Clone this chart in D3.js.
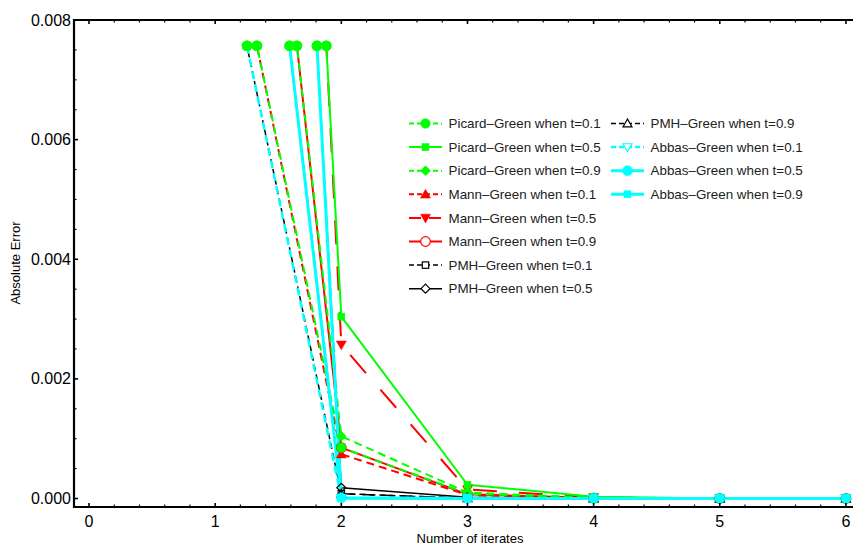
<!DOCTYPE html>
<html>
<head>
<meta charset="utf-8">
<script src="https://cdn.jsdelivr.net/npm/d3@7"></script>
<style>
  body { margin: 0; background: #fff; }
  text { font-family: "Liberation Sans", Arial, sans-serif; }
</style>
</head>
<body>
<div id="chart"></div>
<script>
// iterate numbers and absolute errors
var iterates = [1, 2, 3, 4, 5, 6];

var picard01 = [0.01090, 0.00085, 0.00008, 0.000010, 0.000001, 0];
var picard05 = [0.04111, 0.00304, 0.00023, 0.000030, 0.000002, 0];
var picard09 = [0.01959, 0.00104, 0.00010, 0.000012, 0.000001, 0];
var mann01   = [0.01095, 0.00074, 0.00006, 0.000006, 0, 0];
var mann05   = [0.04459, 0.00257, 0.00015, 0.000020, 0.000001, 0];
var mann09   = [0.01994, 0.00085, 0.00007, 0.000008, 0, 0];
var pmh01    = [0.01009, 0.00008, 0.000004, 0, 0, 0];
var pmh05    = [0.03845, 0.00018, 0.000020, 0, 0, 0];
var pmh09    = [0.01835, 0.00008, 0.000004, 0, 0, 0];
var abbas01  = [0.01012, 0.00001, 0, 0, 0, 0];
var abbas05  = [0.03918, 0.00001, 0, 0, 0, 0];
var abbas09  = [0.01845, 0.00001, 0, 0, 0, 0];

var seriesLabels = [
    "Picard\u2013Green when t=0.1", "Picard\u2013Green when t=0.5", "Picard\u2013Green when t=0.9",
    "Mann\u2013Green when t=0.1", "Mann\u2013Green when t=0.5", "Mann\u2013Green when t=0.9",
    "PMH\u2013Green when t=0.1", "PMH\u2013Green when t=0.5", "PMH\u2013Green when t=0.9",
    "Abbas\u2013Green when t=0.1", "Abbas\u2013Green when t=0.5", "Abbas\u2013Green when t=0.9"
];
var seriesValues = [picard01, picard05, picard09, mann01, mann05, mann09,
                    pmh01, pmh05, pmh09, abbas01, abbas05, abbas09];

var xTicks = [0, 1, 2, 3, 4, 5, 6];
var yTicks = [0, 0.002, 0.004, 0.006, 0.008];
var yClip = 0.00757;

// styles
var styles = [
    {color: "#00ff00", dash: "8,5", width: 2, marker: "circle", fill: true, size: 4.8},
    {color: "#00ff00", dash: null, width: 2, marker: "square", fill: true, size: 3.5},
    {color: "#00ff00", dash: "8,5", width: 2, marker: "diamond", fill: true, size: 5},
    {color: "#ff0000", dash: "8,5", width: 2, marker: "triUp", fill: true, size: 5},
    {color: "#ff0000", dash: "24,22", width: 2, marker: "triDown", fill: true, size: 5},
    {color: "#ff0000", dash: null, width: 2, marker: "circle", fill: false, size: 4.8},
    {color: "#000000", dash: "6,4", width: 1.5, marker: "square", fill: false, size: 3.2},
    {color: "#000000", dash: null, width: 1.5, marker: "diamond", fill: false, size: 4.5},
    {color: "#000000", dash: "12,7", width: 1.5, marker: "triUp", fill: false, size: 4.5},
    {color: "#00ffff", dash: "8,5", width: 2.5, marker: "triDown", fill: false, size: 4.5},
    {color: "#00ffff", dash: null, width: 3, marker: "circle", fill: true, size: 5},
    {color: "#00ffff", dash: null, width: 3, marker: "square", fill: true, size: 3.5}
];
// order in which the series are painted
var drawOrder = [3, 4, 5, 0, 1, 2, 6, 7, 8, 11, 9, 10];

var width = 853;
var height = 547;
var pLeft = 74, pRight = 853, pTop = 20, pBottom = 507;

var svg = d3.select("#chart").append("svg")
    .attr("width", width)
    .attr("height", height);

var x = d3.scaleLinear().domain([-0.119, 6.056]).range([pLeft, pRight]);
var y = d3.scaleLinear().domain([-0.000142, 0.008]).range([pBottom, pTop]);

svg.append("clipPath").attr("id", "plotClip")
    .append("rect")
    .attr("x", pLeft)
    .attr("y", y(yClip))
    .attr("width", pRight - pLeft)
    .attr("height", pBottom - y(yClip));

function drawMarker(g, type, cx, cy, st, size, openFill) {
    var fill = st.fill ? st.color : openFill;
    var s = size;
    var el;
    if (type === "circle") {
        el = g.append("circle").attr("cx", cx).attr("cy", cy).attr("r", s);
    } else if (type === "square") {
        el = g.append("rect").attr("x", cx - s).attr("y", cy - s).attr("width", 2 * s).attr("height", 2 * s);
    } else {
        var pts;
        if (type === "diamond") pts = [[cx, cy - s], [cx + s, cy], [cx, cy + s], [cx - s, cy]];
        else if (type === "triUp") pts = [[cx, cy - s], [cx + s, cy + s * 0.75], [cx - s, cy + s * 0.75]];
        else pts = [[cx, cy + s], [cx + s, cy - s * 0.75], [cx - s, cy - s * 0.75]];
        el = g.append("polygon").attr("points", pts.map(function(p) { return p.join(","); }).join(" "));
    }
    el.attr("fill", fill)
        .attr("stroke", st.color)
        .attr("stroke-width", st.fill ? 0.5 : 1.2);
}

var line = d3.line()
    .x(function(d) { return x(d[0]); })
    .y(function(d) { return y(d[1]); });

var plot = svg.append("g").attr("clip-path", "url(#plotClip)");

// lines
drawOrder.forEach(function(i) {
    var vals = seriesValues[i];
    var pts = iterates.map(function(it, j) { return [it, vals[j]]; });
    var st = styles[i];
    plot.append("path")
        .attr("d", line(pts))
        .attr("fill", "none")
        .attr("stroke", st.color)
        .attr("stroke-width", st.width)
        .attr("stroke-dasharray", st.dash)
        .attr("stroke-linejoin", "round");
});

// markers inside the plot range
var markers = svg.append("g");
drawOrder.forEach(function(i) {
    var vals = seriesValues[i];
    var st = styles[i];
    iterates.forEach(function(it, j) {
        if (vals[j] <= yClip) {
            drawMarker(markers, st.marker, x(it), y(vals[j]), st, st.size, "none");
        }
    });
});

// markers where the lines leave the top of the plot
seriesValues.forEach(function(vals, i) {
    for (var j = 0; j < vals.length - 1; j++) {
        if (vals[j] > yClip && vals[j + 1] <= yClip) {
            var f = (vals[j] - yClip) / (vals[j] - vals[j + 1]);
            var cx = iterates[j] + f * (iterates[j + 1] - iterates[j]);
            markers.append("circle")
                .attr("cx", x(cx))
                .attr("cy", y(yClip))
                .attr("r", 5.3)
                .attr("fill", "#00ff00");
        }
    }
});

// frame
var frame = svg.append("g").attr("stroke", "#000");
frame.append("line").attr("x1", pLeft).attr("x2", pLeft).attr("y1", pTop - 1).attr("y2", pBottom + 1).attr("stroke-width", 2.2);
frame.append("line").attr("x1", pLeft - 1).attr("x2", pRight).attr("y1", pBottom).attr("y2", pBottom).attr("stroke-width", 2.2);
frame.append("line").attr("x1", pLeft - 1).attr("x2", pRight).attr("y1", pTop).attr("y2", pTop).attr("stroke-width", 2.2);

// x ticks (bottom and top, inward)
var xMinor = d3.range(0, 6.05, 0.2);
xMinor.forEach(function(v) {
    var major = Math.abs(v - Math.round(v)) < 1e-6;
    var len = major ? 4 : 2.5;
    frame.append("line").attr("x1", x(v)).attr("x2", x(v)).attr("y1", pBottom).attr("y2", pBottom - len).attr("stroke-width", major ? 1.6 : 1.2);
    frame.append("line").attr("x1", x(v)).attr("x2", x(v)).attr("y1", pTop).attr("y2", pTop + len).attr("stroke-width", major ? 1.6 : 1.2);
});
var yMinor = d3.range(0, 0.00801, 0.0005);
yMinor.forEach(function(v) {
    var major = Math.abs(v / 0.002 - Math.round(v / 0.002)) < 1e-6;
    var len = major ? 4 : 2.5;
    frame.append("line").attr("x1", pLeft).attr("x2", pLeft + len).attr("y1", y(v)).attr("y2", y(v)).attr("stroke-width", major ? 1.6 : 1.2);
});

svg.append("g").selectAll("text").data(xTicks).enter().append("text")
    .attr("x", function(d) { return x(d); })
    .attr("y", 527)
    .attr("text-anchor", "middle")
    .attr("font-size", "16px")
    .text(function(d) { return d; });

svg.append("g").selectAll("text").data(yTicks).enter().append("text")
    .attr("x", 71)
    .attr("y", function(d) { return y(d) + 5.5; })
    .attr("text-anchor", "end")
    .attr("font-size", "16px")
    .text(function(d) { return d3.format(".3f")(d); });

svg.append("text")
    .attr("x", 470)
    .attr("y", 543)
    .attr("text-anchor", "middle")
    .attr("font-size", "13px")
    .text("Number of iterates");

svg.append("text")
    .attr("transform", "translate(20,263) rotate(-90)")
    .attr("text-anchor", "middle")
    .attr("font-size", "13px")
    .text("Absolute Error");

// legend
var legend = svg.append("g");
var rowH = 23.6;
seriesLabels.forEach(function(label, i) {
    var st = styles[i];
    var col = i < 8 ? 0 : 1;
    var row = i < 8 ? i : i - 8;
    var lx = col === 0 ? 409 : 611;
    var ly = 123.5 + row * rowH;
    legend.append("line")
        .attr("x1", lx).attr("x2", lx + 33)
        .attr("y1", ly).attr("y2", ly)
        .attr("stroke", st.color)
        .attr("stroke-width", st.width)
        .attr("stroke-dasharray", st.dash ? (st.dash === "24,22" ? "12,8" : "5,3") : null);
    drawMarker(legend, st.marker, lx + 16.5, ly, st, st.size, "#fff");
    legend.append("text")
        .attr("x", lx + 39.5)
        .attr("y", ly + 4.7)
        .attr("font-size", "13.4px")
        .attr("fill", "#222")
        .text(label);
});
</script>
</body>
</html>
